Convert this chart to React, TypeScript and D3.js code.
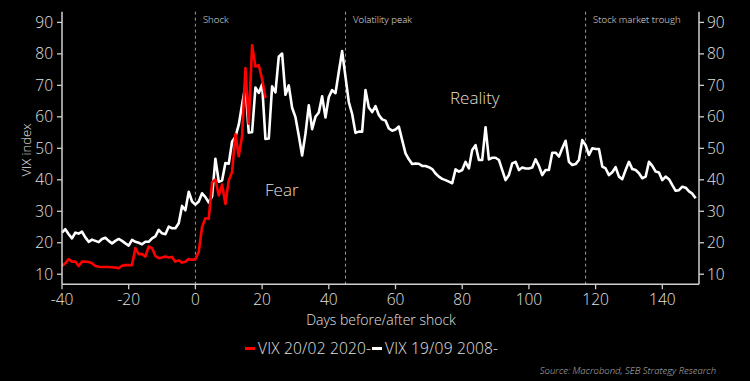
import React from "react";
import * as d3 from "d3";

const xTicks = [-40, -20, 0, 20, 40, 60, 80, 100, 120, 140];
const yTicks = [10, 20, 30, 40, 50, 60, 70, 80, 90];

const redStart = -40;
const red2020 = [
  12.6, 13.5, 14.8, 14.0, 14.0, 12.6, 14.0, 14.0, 13.9, 13.5,
  12.6, 12.4, 12.3, 12.3, 12.3, 12.2, 12.1, 11.9, 12.7, 12.9,
  12.9, 12.9, 18.3, 16.4, 16.4, 15.6, 18.8, 18.3, 15.8, 15.1,
  15.3, 15.6, 15.3, 15.5, 14.0, 14.4, 13.7, 14.0, 14.8, 14.6,
  14.8, 17.1, 25.0, 27.8, 27.6, 39.2, 40.1, 35.0, 38.5, 32.3,
  39.8, 42.5, 54.5, 47.5, 53.9, 75.5, 57.8, 82.7, 76.0, 76.4,
  72.0, 66.0,
];

const whiteStart = -40;
const white2008 = [
  23.2, 24.3, 22.7, 21.4, 23.2, 22.9, 23.5, 21.7, 20.3, 21.0,
  20.6, 20.2, 21.2, 21.6, 20.6, 19.8, 20.6, 21.2, 20.6, 19.8,
  19.1, 20.9, 20.3, 20.0, 19.5, 20.3, 20.3, 21.4, 22.0, 24.1,
  23.0, 22.7, 25.1, 24.6, 24.6, 26.2, 31.7, 30.3, 36.2, 33.1,
  // day 0
  32.1, 33.1, 35.7, 34.5, 32.8, 34.7, 46.7, 39.4, 39.8, 45.3,
  45.1, 52.1, 53.7, 57.5, 63.9, 70.0, 55.0, 55.1, 69.3, 67.6,
  70.3, 53.0, 53.1, 69.7, 67.8, 79.1, 80.1, 67.0, 70.0, 62.9,
  59.9, 54.0, 47.7, 54.6, 63.7, 56.1, 60.0, 61.4, 66.5, 59.8,
  66.3, 68.5, 67.5, 74.3, 80.9, 72.7, 64.7, 60.9, 54.9, 55.3,
  55.3, 68.5, 63.0, 61.5, 63.4, 60.6, 59.2, 58.8, 56.3, 55.6,
  56.0, 56.9, 52.6, 48.4, 46.5, 45.0, 45.2, 45.1, 44.4, 44.4,
  44.0, 43.4, 42.0, 41.0, 40.3, 39.9, 39.4, 38.9, 43.3, 42.6,
  43.1, 45.7, 43.6, 49.5, 51.0, 46.3, 46.3, 56.7, 46.5, 47.0,
  47.0, 46.3, 43.1, 39.9, 41.5, 45.2, 45.7, 43.1, 43.9, 43.6,
  43.6, 43.9, 46.5, 44.4, 41.5, 43.1, 43.1, 48.6, 48.6, 47.4,
  50.0, 52.4, 45.7, 44.7, 45.0, 46.3, 52.6, 51.0, 47.9, 50.0,
  49.8, 49.8, 44.2, 43.6, 41.5, 42.4, 44.0, 41.0, 40.2, 43.1,
  45.7, 43.4, 43.1, 42.1, 40.5, 41.0, 45.7, 44.4, 42.6, 42.3,
  39.9, 41.0, 40.2, 38.3, 36.5, 36.7, 37.8, 37.5, 36.3, 35.6,
  34.1,
];

const markerDays = [0, 45, 117];
const markerLabels = ["Shock", "Volatility peak", "Stock market trough"];

const legendLabels = ["VIX 20/02 2020-", "VIX 19/09 2008-"];
const seriesColors = ["#ff0000", "#ffffff"];

const FONT = "'Open Sans', 'DejaVu Sans', sans-serif";
const AXIS = "#cfcfcf";
const TXT = "#e2e2e2";

export default function App() {
  const W = 750;
  const H = 381;
  const x = d3.scaleLinear().domain([-40, 151]).range([62, 699]);
  const y = d3.scaleLinear().domain([6.8, 93.4]).range([284.3, 11.7]);

  const redPts: [number, number][] = red2020.map((v, i) => [redStart + i, v]);
  const whitePts: [number, number][] = white2008.map((v, i) => [whiteStart + i, v]);
  const line = d3
    .line<[number, number]>()
    .x((d) => x(d[0]))
    .y((d) => y(d[1]))
    .curve(d3.curveLinear);

  const [x0, x1] = x.range();
  const [yb, yt] = y.range();

  return (
    <svg
      width={W}
      height={H}
      style={{ position: "absolute", left: 0, top: 0, display: "block" }}
      fontFamily={FONT}
      fontWeight={300}
    >
      <rect x={0} y={0} width={W} height={H} fill="#000" />

      {/* marker dashed lines */}
      {markerDays.map((d, i) => (
        <g key={"m" + i}>
          <line
            x1={x(d)}
            x2={x(d)}
            y1={yt}
            y2={yb}
            stroke="#9a9a9a"
            strokeWidth={1}
            strokeDasharray="3,3"
          />
          <text x={x(d) + 7.5} y={23} fontSize={9.6} fill={TXT}>
            {markerLabels[i]}
          </text>
        </g>
      ))}

      {/* series */}
      <path d={line(whitePts) || ""} fill="none" stroke={seriesColors[1]} strokeWidth={2.6} strokeLinejoin="round" />
      <path d={line(redPts) || ""} fill="none" stroke={seriesColors[0]} strokeWidth={2.6} strokeLinejoin="round" />

      {/* region labels */}
      <text x={265} y={196} fontSize={17} fill="#e6ddd2">Fear</text>
      <text x={450} y={104} fontSize={17} fill="#e6ddd2">Reality</text>

      {/* axes */}
      <line x1={x0} x2={x0} y1={yt} y2={yb} stroke={AXIS} strokeWidth={1.5} />
      <line x1={x1} x2={x1} y1={yt} y2={yb} stroke={AXIS} strokeWidth={1.5} />
      <line x1={x0} x2={x1} y1={yb} y2={yb} stroke={AXIS} strokeWidth={1.5} />

      {yTicks.map((t) => (
        <g key={"y" + t}>
          <line x1={x0 - 5} x2={x0} y1={y(t)} y2={y(t)} stroke={AXIS} strokeWidth={1.3} />
          <text x={x0 - 9} y={y(t)} dy="0.35em" textAnchor="end" fontSize={15.5} fill={TXT}>
            {t}
          </text>
          <line x1={x1} x2={x1 + 5} y1={y(t)} y2={y(t)} stroke={AXIS} strokeWidth={1.3} />
          <text x={x1 + 8} y={y(t)} dy="0.35em" textAnchor="start" fontSize={15.5} fill={TXT}>
            {t}
          </text>
        </g>
      ))}

      {xTicks.map((t) => (
        <g key={"x" + t}>
          <line x1={x(t)} x2={x(t)} y1={yb} y2={yb + 5} stroke={AXIS} strokeWidth={1.3} />
          <text x={x(t)} y={305} textAnchor="middle" fontSize={15.5} fill={TXT}>
            {t}
          </text>
        </g>
      ))}

      <text x={381} y={325} textAnchor="middle" fontSize={14} fill={TXT}>
        Days before/after shock
      </text>
      <text
        transform="translate(31,150) rotate(-90)"
        textAnchor="middle"
        fontSize={13}
        fill={TXT}
      >
        VIX index
      </text>

      {/* legend */}
      <rect x={245} y={347} width={10} height={3} fill={seriesColors[0]} />
      <text x={258} y={354} fontSize={15.5} letterSpacing={0.2} fill={TXT}>{legendLabels[0]}</text>
      <rect x={372} y={347} width={10} height={3} fill={seriesColors[1]} />
      <text x={385} y={354} fontSize={15.5} letterSpacing={0.2} fill={TXT}>{legendLabels[1]}</text>

      <text x={716} y={374} textAnchor="end" fontSize={9.5} fontStyle="italic" fill="#bdbdbd">
        Source: Macrobond, SEB Strategy Research
      </text>
    </svg>
  );
}
